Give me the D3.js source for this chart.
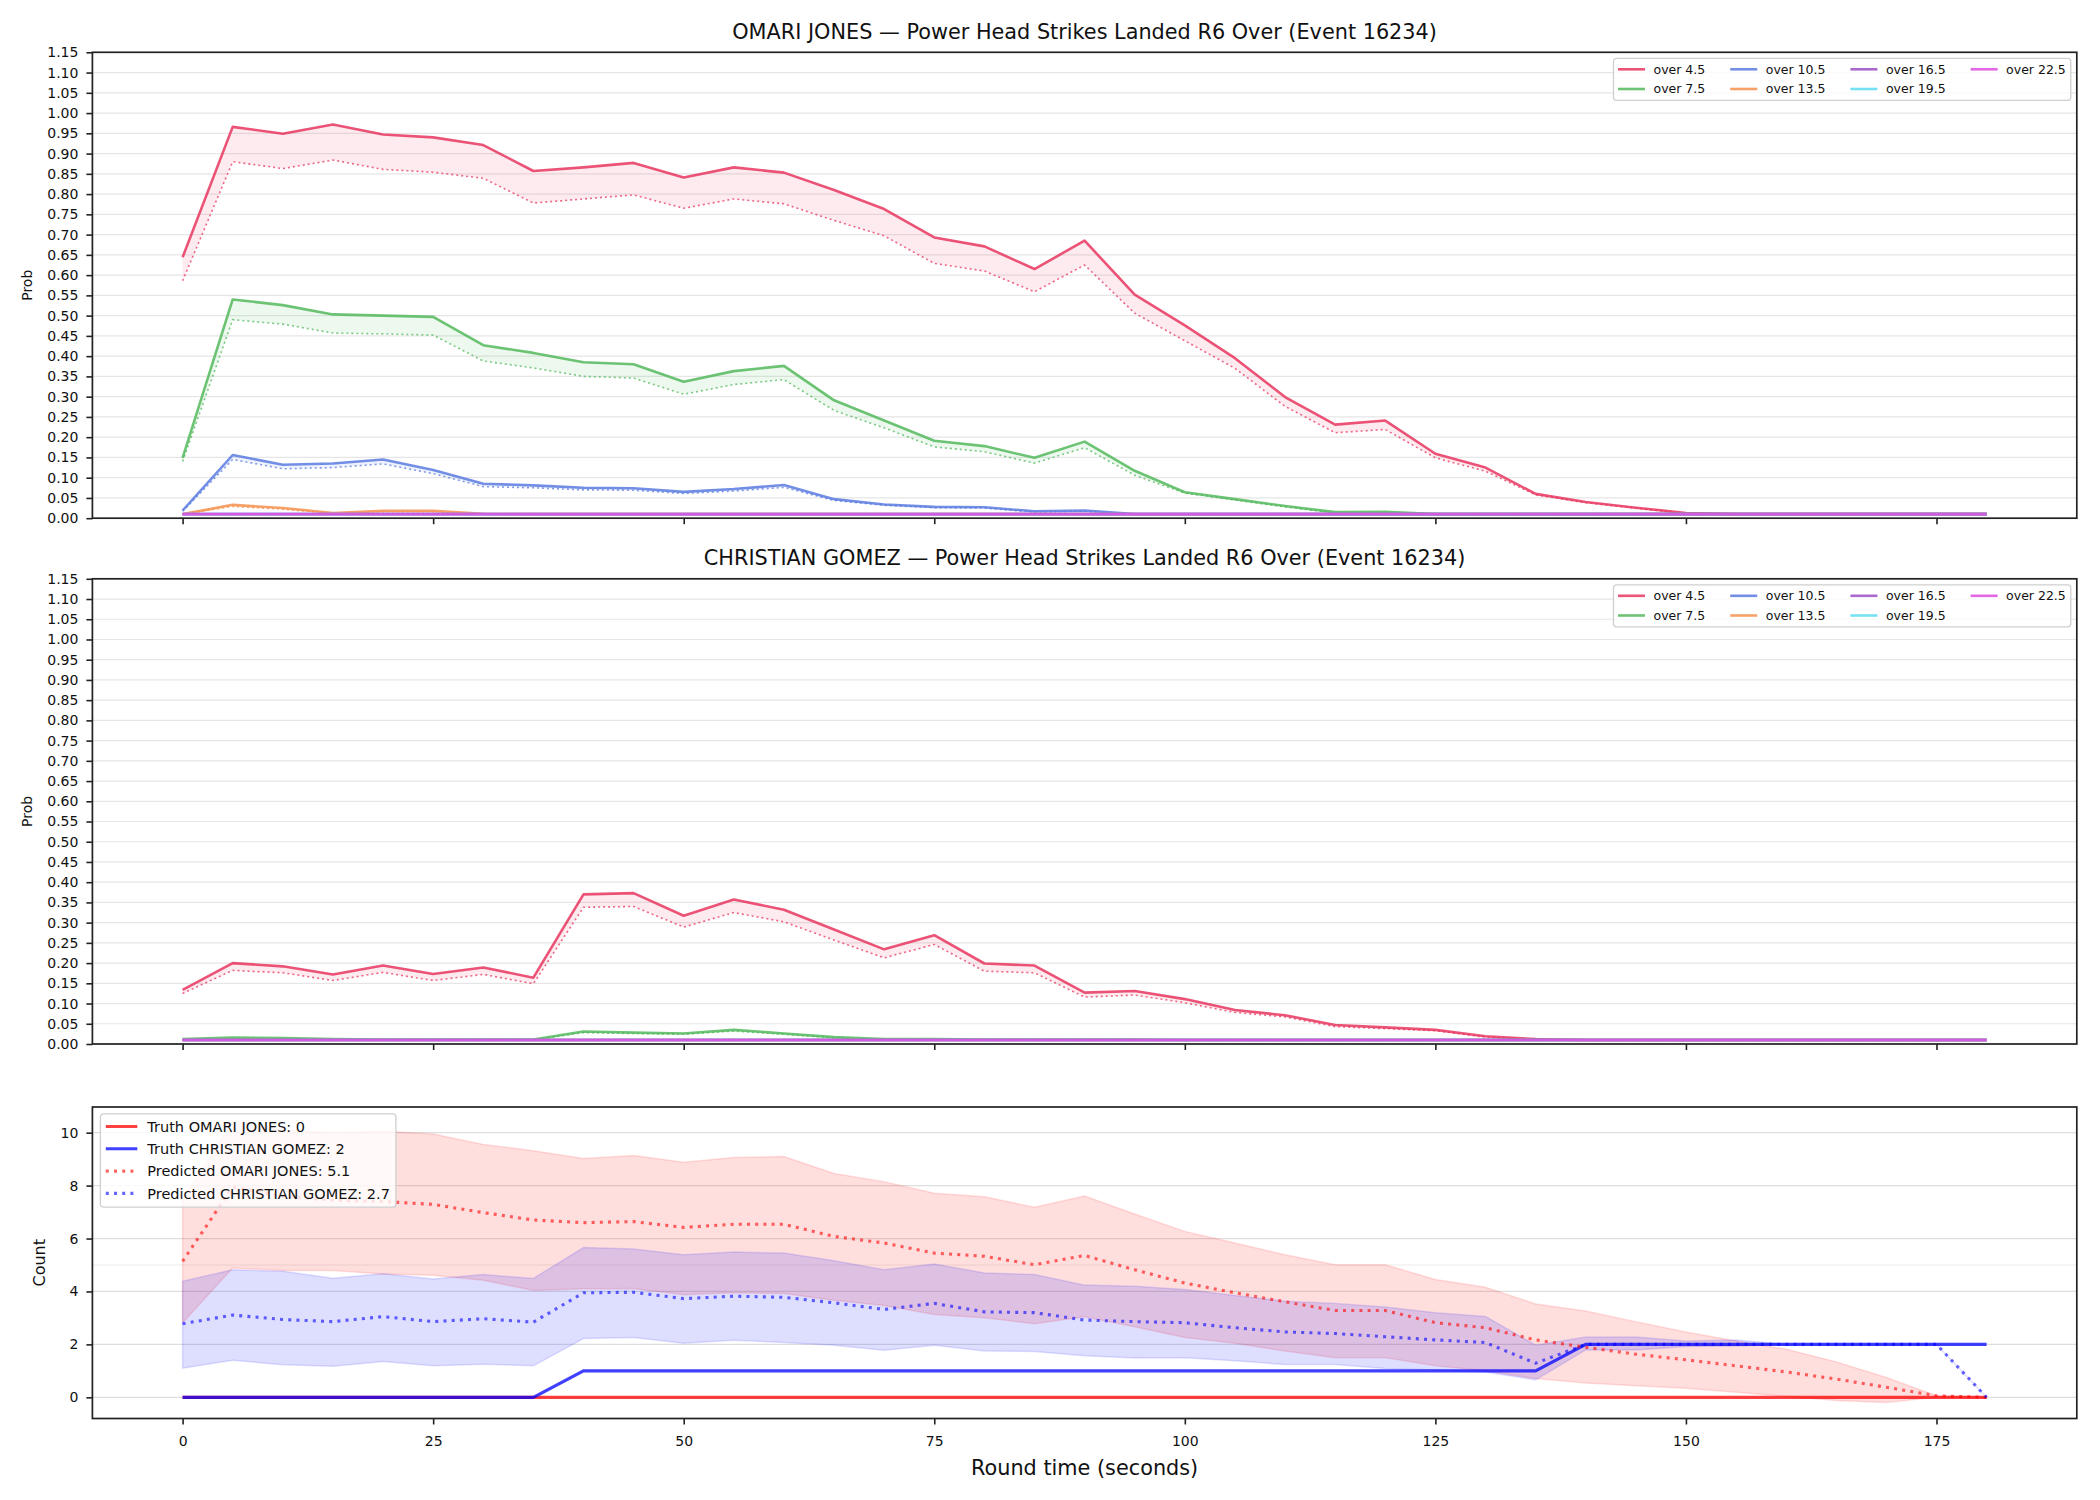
<!DOCTYPE html>
<html>
<head>
<meta charset="utf-8">
<script src="https://cdn.jsdelivr.net/npm/d3@7"></script>
<style>
  body { margin: 0; background: #fff; }
  svg text { font-family: "DejaVu Sans", sans-serif; fill: #111; }
</style>
</head>
<body>
<div id="chart"></div>
<script>
// ---- data ----
const times = [0,5,10,15,20,25,30,35,40,45,50,55,60,65,70,75,80,85,90,95,100,105,110,115,120,125,130,135,140,145,150,155,160,165,170,175,180];
const thresholds = ['over 4.5','over 7.5','over 10.5','over 13.5','over 16.5','over 19.5','over 22.5'];
const lineColors = ['#e8365f','#52b85c','#5b7be0','#f5914d','#9c4fc4','#5fdcf2','#e04ce0'];

const floorProb = [0.01,0.01,0.01,0.01,0.01,0.01,0.01,0.01,0.01,0.01,0.01,0.01,0.01,0.01,0.01,0.01,0.01,0.01,0.01,0.01,0.01,0.01,0.01,0.01,0.01,0.01,0.01,0.01,0.01,0.01,0.01,0.01,0.01,0.01,0.01,0.01,0.01];

// OMARI JONES, solid = market, dotted = model
const jones45Market = [0.644,0.966,0.949,0.972,0.947,0.940,0.921,0.857,0.866,0.877,0.841,0.866,0.853,0.810,0.763,0.693,0.671,0.615,0.685,0.552,0.476,0.395,0.299,0.231,0.241,0.159,0.125,0.060,0.040,0.026,0.013,0.010,0.010,0.010,0.010,0.010,0.010];
const jones45Model  = [0.586,0.880,0.863,0.884,0.861,0.854,0.839,0.778,0.788,0.798,0.765,0.788,0.776,0.735,0.697,0.629,0.610,0.559,0.625,0.506,0.438,0.370,0.276,0.211,0.219,0.149,0.116,0.058,0.038,0.025,0.011,0.010,0.010,0.010,0.010,0.010,0.010];
const jones75Market = [0.149,0.540,0.526,0.503,0.500,0.497,0.427,0.408,0.385,0.380,0.337,0.363,0.376,0.291,0.241,0.191,0.178,0.149,0.189,0.117,0.064,0.047,0.030,0.015,0.016,0.010,0.010,0.010,0.010,0.010,0.010,0.010,0.010,0.010,0.010,0.010,0.010];
const jones75Model  = [0.140,0.490,0.479,0.457,0.455,0.452,0.388,0.371,0.350,0.346,0.306,0.330,0.342,0.266,0.223,0.176,0.164,0.136,0.174,0.106,0.062,0.045,0.028,0.013,0.014,0.010,0.010,0.010,0.010,0.010,0.010,0.010,0.010,0.010,0.010,0.010,0.010];
const jones105Market = [0.019,0.156,0.132,0.135,0.145,0.119,0.085,0.081,0.075,0.074,0.065,0.072,0.082,0.047,0.034,0.028,0.027,0.017,0.019,0.010,0.010,0.010,0.010,0.010,0.010,0.010,0.010,0.010,0.010,0.010,0.010,0.010,0.010,0.010,0.010,0.010,0.010];
const jones105Model  = [0.017,0.145,0.122,0.125,0.134,0.110,0.078,0.075,0.070,0.069,0.061,0.067,0.076,0.044,0.032,0.026,0.025,0.015,0.017,0.010,0.010,0.010,0.010,0.010,0.010,0.010,0.010,0.010,0.010,0.010,0.010,0.010,0.010,0.010,0.010,0.010,0.010];
const jones135Market = [0.010,0.033,0.025,0.013,0.018,0.018,0.011,0.010,0.010,0.010,0.010,0.010,0.010,0.010,0.010,0.010,0.010,0.010,0.010,0.010,0.010,0.010,0.010,0.010,0.010,0.010,0.010,0.010,0.010,0.010,0.010,0.010,0.010,0.010,0.010,0.010,0.010];
const jones135Model  = [0.010,0.029,0.022,0.012,0.016,0.016,0.010,0.010,0.010,0.010,0.010,0.010,0.010,0.010,0.010,0.010,0.010,0.010,0.010,0.010,0.010,0.010,0.010,0.010,0.010,0.010,0.010,0.010,0.010,0.010,0.010,0.010,0.010,0.010,0.010,0.010,0.010];

// CHRISTIAN GOMEZ
const gomez45Market = [0.134,0.200,0.192,0.172,0.194,0.173,0.189,0.164,0.370,0.373,0.317,0.357,0.332,0.283,0.234,0.269,0.199,0.194,0.127,0.131,0.111,0.084,0.071,0.047,0.041,0.035,0.019,0.012,0.010,0.010,0.010,0.010,0.010,0.010,0.010,0.010,0.010];
const gomez45Model  = [0.125,0.182,0.176,0.157,0.177,0.157,0.172,0.149,0.338,0.340,0.289,0.325,0.302,0.257,0.213,0.246,0.180,0.176,0.116,0.121,0.102,0.078,0.067,0.043,0.038,0.033,0.017,0.011,0.010,0.010,0.010,0.010,0.010,0.010,0.010,0.010,0.010];
const gomez75Market = [0.012,0.016,0.015,0.012,0.011,0.011,0.011,0.011,0.031,0.028,0.026,0.035,0.026,0.017,0.012,0.012,0.011,0.011,0.011,0.011,0.010,0.010,0.010,0.010,0.010,0.010,0.010,0.010,0.010,0.010,0.010,0.010,0.010,0.010,0.010,0.010,0.010];
const gomez75Model  = [0.011,0.014,0.013,0.011,0.010,0.010,0.010,0.010,0.028,0.026,0.024,0.032,0.024,0.015,0.011,0.011,0.010,0.010,0.010,0.010,0.010,0.010,0.010,0.010,0.010,0.010,0.010,0.010,0.010,0.010,0.010,0.010,0.010,0.010,0.010,0.010,0.010];

// counts panel
const truthJones = [0,0,0,0,0,0,0,0,0,0,0,0,0,0,0,0,0,0,0,0,0,0,0,0,0,0,0,0,0,0,0,0,0,0,0,0,0];
const truthGomez = [0,0,0,0,0,0,0,0,1,1,1,1,1,1,1,1,1,1,1,1,1,1,1,1,1,1,1,1,2,2,2,2,2,2,2,2,2];
const predJones  = [5.14,7.95,7.6,7.45,7.4,7.29,6.98,6.70,6.60,6.64,6.42,6.54,6.54,6.08,5.83,5.45,5.33,5.01,5.36,4.82,4.32,3.95,3.61,3.28,3.28,2.82,2.63,2.17,1.89,1.63,1.42,1.19,0.96,0.69,0.38,0.06,0.00];
const upperJones = [7.5,10.4,10.1,10.0,10.05,9.95,9.55,9.32,9.02,9.14,8.88,9.06,9.10,8.46,8.15,7.71,7.58,7.18,7.61,6.93,6.27,5.83,5.39,5.01,5.01,4.45,4.16,3.53,3.26,2.86,2.47,2.13,1.82,1.34,0.75,0.06,0.00];
const lowerJones = [2.82,4.89,4.79,4.79,4.66,4.61,4.42,4.04,4.10,4.11,3.88,3.95,3.92,3.67,3.47,3.13,3.01,2.78,3.04,2.67,2.26,2.04,1.75,1.50,1.50,1.19,1.00,0.71,0.54,0.44,0.34,0.19,0.04,-0.12,-0.20,0.00,0.00];
const predGomez  = [2.78,3.11,2.94,2.86,3.05,2.86,2.97,2.84,3.95,3.97,3.73,3.82,3.78,3.57,3.32,3.55,3.23,3.20,2.92,2.86,2.82,2.63,2.47,2.41,2.29,2.17,2.07,1.29,2.00,2.00,2.00,2.00,2.00,2.00,2.00,2.00,0.00];
const upperGomez = [4.39,4.82,4.76,4.50,4.67,4.47,4.64,4.49,5.66,5.60,5.39,5.49,5.45,5.16,4.82,5.04,4.70,4.64,4.24,4.20,4.07,3.85,3.63,3.55,3.41,3.20,3.05,1.97,2.28,2.28,2.13,2.17,2.00,2.00,2.00,2.00,0.00];
const lowerGomez = [1.10,1.40,1.23,1.17,1.35,1.19,1.25,1.19,2.22,2.26,2.04,2.16,2.07,1.97,1.78,1.97,1.75,1.73,1.57,1.49,1.50,1.38,1.24,1.24,1.09,1.03,0.96,0.66,1.79,1.79,1.92,1.94,2.00,2.00,2.00,2.00,0.00];

const probTicks = [0,0.05,0.1,0.15,0.2,0.25,0.3,0.35,0.4,0.45,0.5,0.55,0.6,0.65,0.7,0.75,0.8,0.85,0.9,0.95,1,1.05,1.1,1.15];
const countTicks = [0,2,4,6,8,10];
const countRefLine = [5];
const timeTicks = [0,25,50,75,100,125,150,175];

const countLegend = ['Truth OMARI JONES: 0','Truth CHRISTIAN GOMEZ: 2','Predicted OMARI JONES: 5.1','Predicted CHRISTIAN GOMEZ: 2.7'];

// ---- layout ----
const W = 2100, H = 1500;
const left = 92.4, right = 2076.8;
const svg = d3.select('#chart').append('svg').attr('width', W).attr('height', H);
const x = d3.scaleLinear().domain([-9, 189]).range([left, right]);
const spine = '#222';

function gridLines(g, y, ticks, color) {
    g.append('g').selectAll('line').data(ticks).join('line')
        .attr('x1', left).attr('x2', right)
        .attr('y1', d => y(d)).attr('y2', d => y(d))
        .attr('stroke', color).attr('stroke-width', 1.2);
}

function axes(g, y, top, bottom, yTicks, yFmt, showXLabels) {
    const ya = g.append('g').attr('transform', `translate(${left},0)`)
        .call(d3.axisLeft(y).tickValues(yTicks).tickFormat(yFmt).tickSize(6).tickPadding(8));
    const xa = g.append('g').attr('transform', `translate(0,${bottom})`)
        .call(d3.axisBottom(x).tickValues(timeTicks).tickSize(6).tickPadding(12)
            .tickFormat(showXLabels ? d3.format('d') : ''));
    [ya, xa].forEach(a => {
        a.select('.domain').remove();
        a.selectAll('.tick line').attr('stroke', spine).attr('stroke-width', 1.6);
        a.selectAll('.tick text').attr('font-size', 14).attr('fill', '#111')
            .style('font-family', '"DejaVu Sans", sans-serif');
    });
    g.append('rect').attr('x', left).attr('y', top)
        .attr('width', right - left).attr('height', bottom - top)
        .attr('fill', 'none').attr('stroke', spine).attr('stroke-width', 1.7);
}

function probLegend(g, top) {
    const lg = g.append('g');
    const box = lg.append('rect');
    const fs = 12.5, handle = 27, pad = 8.5, colGap = 25, rowH = 19.7;
    let cx = 0;
    const cols = [[0,1],[2,3],[4,5],[6]];
    cols.forEach(col => {
        let maxW = 0;
        col.forEach((i, r) => {
            const yy = 10.5 + r * rowH;
            lg.append('line').attr('x1', cx).attr('x2', cx + handle).attr('y1', yy).attr('y2', yy)
                .attr('stroke', lineColors[i]).attr('stroke-width', 2.6).attr('stroke-opacity', 0.85);
            const t = lg.append('text').attr('x', cx + handle + pad).attr('y', yy + 4.5)
                .attr('font-size', fs).text(thresholds[i]);
            maxW = Math.max(maxW, t.node().getComputedTextLength());
        });
        cx += handle + pad + maxW + colGap;
    });
    const w = cx - colGap;
    box.attr('x', -4.5).attr('y', -0.5).attr('width', w + 9.5).attr('height', 42)
        .attr('rx', 3).attr('fill', '#fff').attr('fill-opacity', 0.8)
        .attr('stroke', '#d0d0d0').attr('stroke-width', 1.3);
    lg.attr('transform', `translate(${right - 6 - (w + 5)},${top + 6.5})`);
}

function probPanel(top, bottom, title, market, model) {
    const g = svg.append('g');
    const y = d3.scaleLinear().domain([0, 1.15]).range([bottom, top]);
    gridLines(g, y, probTicks, '#e6e6e6');
    const area = d3.area().x(d => x(d.t)).y0(d => y(d.p)).y1(d => y(d.m));
    const lineM = d3.line().x(d => x(d.t)).y(d => y(d.m));
    const lineP = d3.line().x(d => x(d.t)).y(d => y(d.p));
    thresholds.forEach((name, i) => {
        const pts = times.map((t, j) => ({t: t, m: market[i][j], p: model[i][j]}));
        g.append('path').datum(pts).attr('d', area)
            .attr('fill', lineColors[i]).attr('fill-opacity', 0.1);
        g.append('path').datum(pts).attr('d', lineP)
            .attr('fill', 'none').attr('stroke', lineColors[i]).attr('stroke-opacity', 0.75)
            .attr('stroke-width', 1.6).attr('stroke-dasharray', '2,3');
        g.append('path').datum(pts).attr('d', lineM)
            .attr('fill', 'none').attr('stroke', lineColors[i]).attr('stroke-opacity', 0.85)
            .attr('stroke-width', 2.6).attr('stroke-linejoin', 'round');
    });
    axes(g, y, top, bottom, probTicks, d3.format('.2f'), false);
    g.append('text').attr('x', 28).attr('y', (top + bottom) / 2)
        .attr('transform', `rotate(-90,28,${(top + bottom) / 2})`)
        .attr('text-anchor', 'middle').attr('dominant-baseline', 'middle')
        .attr('font-size', 14).text('Prob');
    g.append('text').attr('x', (left + right) / 2).attr('y', top - 13.5)
        .attr('text-anchor', 'middle').attr('font-size', 20.8).text(title);
    probLegend(g, top);
}

probPanel(52.3, 518.2, 'OMARI JONES \u2014 Power Head Strikes Landed R6 Over (Event 16234)',
    [jones45Market, jones75Market, jones105Market, jones135Market, floorProb, floorProb, floorProb],
    [jones45Model, jones75Model, jones105Model, jones135Model, floorProb, floorProb, floorProb]);
probPanel(578.8, 1044, 'CHRISTIAN GOMEZ \u2014 Power Head Strikes Landed R6 Over (Event 16234)',
    [gomez45Market, gomez75Market, floorProb, floorProb, floorProb, floorProb, floorProb],
    [gomez45Model, gomez75Model, floorProb, floorProb, floorProb, floorProb, floorProb]);

// ---- counts panel ----
(function countPanel() {
    const top = 1107, bottom = 1418.5;
    const g = svg.append('g');
    const y = d3.scaleLinear().domain([-0.8, 10.97]).range([bottom, top]);
    gridLines(g, y, countTicks, '#dedede');
    gridLines(g, y, countRefLine, '#ececec');

    const band = (lo, hi) => d3.area().x((d, j) => x(times[j])).y0((d, j) => y(lo[j])).y1((d, j) => y(hi[j]));
    const line = arr => d3.line().x((d, j) => x(times[j])).y((d, j) => y(arr[j]));

    g.append('path').datum(times).attr('d', band(lowerJones, upperJones))
        .attr('fill', '#ff0000').attr('fill-opacity', 0.13)
        .attr('stroke', '#ff0000').attr('stroke-opacity', 0.12).attr('stroke-width', 1.5);
    g.append('path').datum(times).attr('d', band(lowerGomez, upperGomez))
        .attr('fill', '#0000ff').attr('fill-opacity', 0.13)
        .attr('stroke', '#0000ff').attr('stroke-opacity', 0.12).attr('stroke-width', 1.5);

    const series = [
        {arr: truthJones, color: '#ff0000', op: 0.75, dash: null},
        {arr: truthGomez, color: '#0000ff', op: 0.75, dash: null},
        {arr: predJones, color: '#ff0000', op: 0.6, dash: '3,5.2'},
        {arr: predGomez, color: '#0000ff', op: 0.6, dash: '3,5.2'}
    ];
    series.forEach(s => {
        g.append('path').datum(times).attr('d', line(s.arr))
            .attr('fill', 'none').attr('stroke', s.color).attr('stroke-opacity', s.op)
            .attr('stroke-width', 3.1).attr('stroke-dasharray', s.dash);
    });

    axes(g, y, top, bottom, countTicks, d3.format('d'), true);
    g.append('text').attr('x', 40).attr('y', (top + bottom) / 2)
        .attr('transform', `rotate(-90,40,${(top + bottom) / 2})`)
        .attr('text-anchor', 'middle').attr('dominant-baseline', 'middle')
        .attr('font-size', 16).text('Count');
    g.append('text').attr('x', (left + right) / 2).attr('y', 1475)
        .attr('text-anchor', 'middle').attr('font-size', 20.8).text('Round time (seconds)');

    // legend
    const lg = g.append('g').attr('transform', `translate(100.4,1113.9)`);
    const box = lg.append('rect');
    let maxW = 0;
    series.forEach((s, i) => {
        const yy = 12.6 + i * 22.3;
        lg.append('line').attr('x1', 5.4).attr('x2', 36.9).attr('y1', yy).attr('y2', yy)
            .attr('stroke', s.color).attr('stroke-opacity', s.op).attr('stroke-width', 3.1)
            .attr('stroke-dasharray', s.dash);
        const t = lg.append('text').attr('x', 46.9).attr('y', yy + 5.2)
            .attr('font-size', 14.5).text(countLegend[i]);
        maxW = Math.max(maxW, t.node().getComputedTextLength());
    });
    box.attr('x', 0).attr('y', 0).attr('width', 46.9 + maxW + 6).attr('height', 93.3)
        .attr('rx', 3).attr('fill', '#fff').attr('fill-opacity', 0.8)
        .attr('stroke', '#d0d0d0').attr('stroke-width', 1.3);
})();
</script>
</body>
</html>
